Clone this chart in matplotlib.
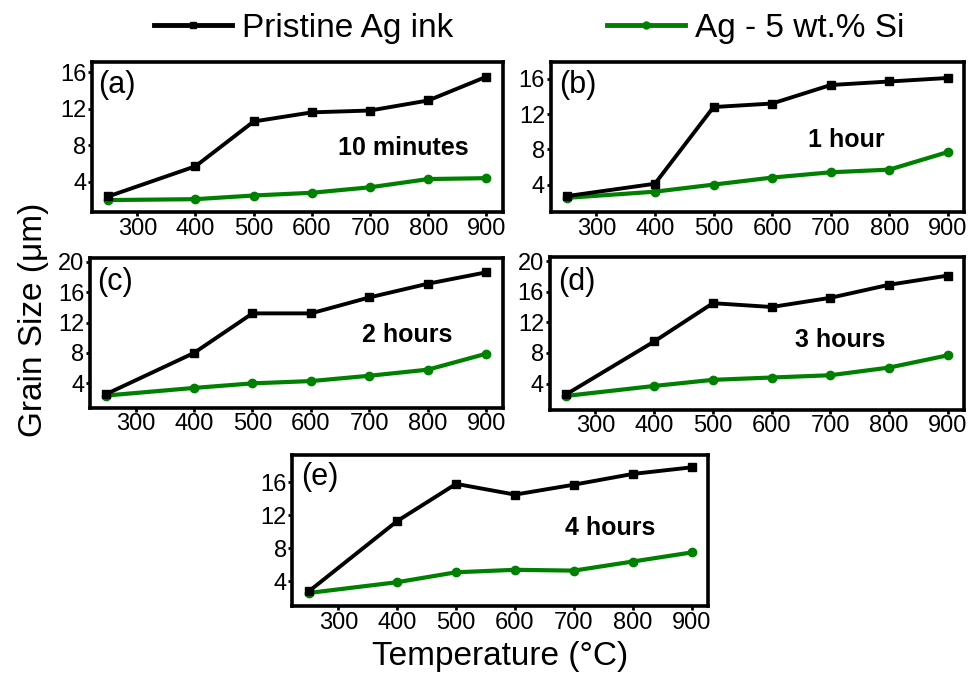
import numpy as np
import matplotlib
matplotlib.use("Agg")
from matplotlib import pyplot as plt
from matplotlib.lines import Line2D

plt.rcParams['font.family'] = ['Liberation Sans', 'DejaVu Sans']

temps = [250, 400, 500, 600, 700, 800, 900]

pristine_10min = [2.4, 5.7, 10.6, 11.6, 11.8, 12.9, 15.5]
si_10min = [2.0, 2.1, 2.5, 2.8, 3.4, 4.3, 4.4]

pristine_1h = [2.7, 4.1, 12.8, 13.2, 15.3, 15.7, 16.1]
si_1h = [2.5, 3.2, 4.0, 4.8, 5.4, 5.7, 7.7]

pristine_2h = [2.6, 8.0, 13.2, 13.2, 15.3, 17.1, 18.6]
si_2h = [2.4, 3.4, 4.0, 4.3, 5.0, 5.8, 7.9]

pristine_3h = [2.6, 9.5, 14.5, 14.0, 15.2, 16.9, 18.1]
si_3h = [2.4, 3.7, 4.5, 4.8, 5.1, 6.1, 7.7]

pristine_4h = [2.8, 11.3, 15.8, 14.5, 15.7, 17.0, 17.8]
si_4h = [2.6, 3.9, 5.1, 5.4, 5.3, 6.4, 7.5]

panel_labels = ["(a)", "(b)", "(c)", "(d)", "(e)"]
time_labels = ["10 minutes", "1 hour", "2 hours", "3 hours", "4 hours"]
yticks_list = [[4, 8, 12, 16], [4, 8, 12, 16], [4, 8, 12, 16, 20],
               [4, 8, 12, 16, 20], [4, 8, 12, 16]]
xticks = [300, 400, 500, 600, 700, 800, 900]

pristine_all = [pristine_10min, pristine_1h, pristine_2h, pristine_3h, pristine_4h]
si_all = [si_10min, si_1h, si_2h, si_3h, si_4h]

# axes boxes (fig fraction) and limits
boxes = [
    [0.094, 0.686, 0.420, 0.222],
    [0.563, 0.686, 0.423, 0.222],
    [0.092, 0.396, 0.422, 0.222],
    [0.562, 0.393, 0.424, 0.226],
    [0.299, 0.102, 0.425, 0.224],
]
ylims = [(0.7, 17.1), (0.9, 17.9), (0.8, 20.5), (0.6, 20.5), (1.0, 19.3)]
time_pos = [(0.757, 0.43), (0.715, 0.48), (0.768, 0.487), (0.70, 0.46), (0.765, 0.52)]
label_pos = [(0.015, 0.85), (0.02, 0.85), (0.017, 0.84), (0.02, 0.84), (0.02, 0.855)]

black = "black"
green = "#008000"

fig = plt.figure(figsize=(9.78, 6.75), dpi=100)

for i in range(5):
    ax = fig.add_axes(boxes[i])
    ax.plot(temps, pristine_all[i], color=black, lw=2.8, marker="s", ms=5.5, zorder=3)
    ax.plot(temps, si_all[i], color=green, lw=3.0, marker="o", ms=6, zorder=2)
    ax.set_xlim(222, 928)
    ax.set_ylim(*ylims[i])
    ax.set_xticks(xticks)
    ax.set_yticks(yticks_list[i])
    ax.tick_params(direction="out", length=3, width=2, labelsize=17, pad=1)
    for sp in ax.spines.values():
        sp.set_linewidth(2.6)
    ax.text(label_pos[i][0], label_pos[i][1], panel_labels[i], transform=ax.transAxes,
            ha="left", va="center", fontsize=22)
    ax.text(time_pos[i][0], time_pos[i][1], time_labels[i], transform=ax.transAxes,
            ha="center", va="center", fontsize=18, fontweight="bold")

fig.text(0.034, 0.526, "Grain Size (\u03bcm)", rotation=90, ha="center", va="center", fontsize=24)
fig.text(0.511, 0.027, "Temperature (\u00b0C)", ha="center", va="center", fontsize=24)

handles = [
    Line2D([], [], color=black, lw=3.5, marker="s", ms=5),
    Line2D([], [], color=green, lw=3.5, marker="o", ms=5),
]
fig.legend(handles, ["Pristine Ag ink", "Ag - 5 wt.% Si"], loc="center",
           bbox_to_anchor=(0.541, 0.958), ncol=2, frameon=False, fontsize=24,
           handlelength=2.35, handletextpad=0.3, columnspacing=4.6)

fig.savefig("out.png", dpi=100)
